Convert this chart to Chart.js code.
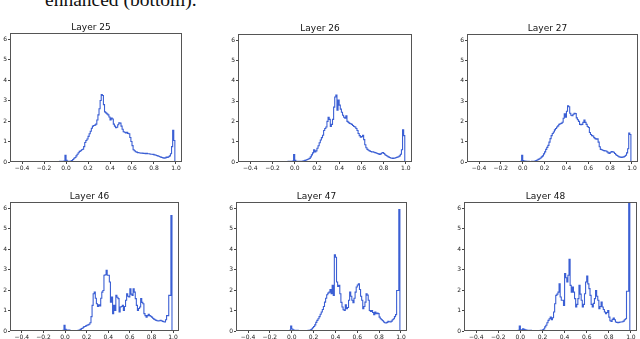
<!DOCTYPE html>
<html>
<head>
<meta charset="utf-8">
<script src="https://cdn.jsdelivr.net/npm/chart.js@4"></script>
<style>
  html, body { margin: 0; padding: 0; background: #fff; }
  body { width: 640px; height: 339px; position: relative; overflow: hidden; }
  .cap { position: absolute; left: 45px; top: -10px; font: 19.5px "Liberation Serif", serif; line-height: 20px; color: #111; white-space: nowrap; }
  .panel { position: absolute; }
</style>
</head>
<body>
<div class="cap">enhanced (bottom).</div>

<script>
// bins are 0.01 wide, first bin starts at -0.08, last ends at 1.00
const binStart = -0.08;
const binWidth = 0.01;

const titles = ["Layer 25", "Layer 26", "Layer 27", "Layer 46", "Layer 47", "Layer 48"];
const xTicks = [-0.4, -0.2, 0.0, 0.2, 0.4, 0.6, 0.8, 1.0];
const yTicks = [0, 1, 2, 3, 4, 5, 6];

const layer25 = [
  0.02, 0.02, 0.02, 0.03, 0.03, 0.03, 0.04, 0.05,
  0.33, 0.08, 0.04, 0.03, 0.04, 0.05, 0.07, 0.12, 0.18, 0.22,
  0.3, 0.38, 0.45, 0.52, 0.55, 0.6, 0.62, 0.75, 0.95, 1.05,
  1.12, 1.25, 1.38, 1.5, 1.65, 1.75, 1.78, 1.8, 1.85, 2.05,
  2.3, 2.6, 3.0, 3.3, 3.25, 2.8, 2.45, 2.4, 2.35, 2.3,
  2.2, 2.05, 2.15, 2.1, 1.85, 1.75, 1.68, 1.7, 1.82, 1.92,
  1.9, 1.75, 1.6, 1.48, 1.45, 1.42, 1.45, 1.4, 1.38, 1.2,
  1.0, 0.8, 0.6, 0.55, 0.5, 0.48, 0.46, 0.45, 0.44, 0.43,
  0.44, 0.42, 0.43, 0.41, 0.42, 0.4, 0.4, 0.39, 0.38, 0.38,
  0.37, 0.35, 0.34, 0.32, 0.3, 0.28, 0.26, 0.24, 0.22, 0.2,
  0.19, 0.2, 0.24, 0.22, 0.26, 0.3, 0.4, 0.75, 1.55, 1.05
];
const layer26 = [
  0.02, 0.02, 0.02, 0.03, 0.03, 0.03, 0.04, 0.05,
  0.37, 0.08, 0.04, 0.03, 0.03, 0.03, 0.04, 0.04, 0.05, 0.06,
  0.08, 0.1, 0.12, 0.15, 0.18, 0.25, 0.35, 0.45, 0.6, 0.5,
  0.55, 0.68, 0.8, 0.95, 1.08, 1.2, 1.32, 1.55, 1.65, 1.72,
  2.0, 2.2, 2.1, 1.75, 1.85, 2.1, 2.7, 3.2, 3.3, 2.55,
  3.05, 2.8, 2.6, 2.45, 2.3, 2.2, 2.15, 2.28, 2.0, 1.95,
  1.9, 1.88, 1.85, 1.8, 1.75, 1.72, 1.65, 1.55, 1.4, 1.3,
  1.22, 1.25, 1.32, 1.1, 0.85, 0.7, 0.62, 0.58, 0.55, 0.52,
  0.5, 0.5, 0.48, 0.46, 0.44, 0.42, 0.4, 0.37, 0.4, 0.44,
  0.46, 0.42, 0.36, 0.32, 0.28, 0.25, 0.22, 0.2, 0.19, 0.18,
  0.19, 0.2, 0.22, 0.24, 0.26, 0.3, 0.38, 0.6, 1.58, 1.3
];
const layer27 = [
  0, 0, 0, 0, 0.01, 0.02, 0.02, 0.03,
  0.33, 0.07, 0.05, 0.05, 0.04, 0.03, 0.03, 0.02, 0.02, 0.03,
  0.03, 0.04, 0.05, 0.07, 0.1, 0.13, 0.16, 0.2, 0.25, 0.3,
  0.4, 0.5, 0.62, 0.72, 0.82, 0.98, 1.15, 1.3, 1.4, 1.48,
  1.58, 1.65, 1.72, 1.78, 1.85, 1.88, 1.9, 1.96, 2.15, 2.37,
  2.2, 2.5, 2.77, 2.72, 2.4, 2.3, 2.28, 2.35, 2.4, 2.38,
  2.17, 2.08, 2.0, 1.85, 1.84, 1.85, 1.95, 2.07, 1.95, 1.85,
  1.75, 1.7, 1.45, 1.35, 1.3, 1.28, 1.2, 1.15, 1.12, 1.14,
  0.98, 0.75, 0.62, 0.6, 0.58, 0.56, 0.55, 0.54, 0.5, 0.45,
  0.42, 0.48, 0.52, 0.5, 0.48, 0.42, 0.36, 0.32, 0.28, 0.25,
  0.24, 0.23, 0.24, 0.25, 0.28, 0.33, 0.45, 0.65, 1.42, 1.35
];
const layer46 = [
  0, 0, 0, 0, 0, 0.02, 0.02, 0.03,
  0.28, 0.08, 0.05, 0.04, 0.05, 0.03, 0.02, 0.01, 0.01, 0.01,
  0.01, 0.02, 0.02, 0.03, 0.05, 0.08, 0.12, 0.15, 0.2, 0.22,
  0.25, 0.28, 0.3, 0.33, 0.4, 0.7, 1.25, 1.82, 1.9, 1.6,
  1.33, 1.2, 1.28, 1.22, 1.6, 1.9, 1.98, 2.72, 2.75, 2.96,
  2.72, 2.72, 2.39, 1.41, 1.66, 0.85, 1.25, 1.0, 1.74, 1.65,
  1.58, 0.93, 1.17, 1.2, 1.25, 1.0, 1.2, 1.5, 1.82, 1.7,
  1.66, 2.06, 1.8, 1.74, 2.06, 1.9, 1.58, 1.25, 1.0, 1.1,
  1.17, 1.58, 1.4, 1.33, 0.85, 0.75, 0.68, 0.75, 0.81, 0.75,
  0.72, 0.68, 0.62, 0.58, 0.55, 0.52, 0.5, 0.49, 0.5, 0.52,
  0.5, 0.47, 0.45, 0.44, 0.55, 0.76, 0.75, 1.74, 1.74, 5.64
];
const layer47 = [
  0, 0, 0, 0, 0, 0.02, 0.02, 0.03,
  0.24, 0.1, 0.06, 0.04, 0.04, 0.03, 0.03, 0.02, 0.02, 0.02,
  0.02, 0.02, 0.02, 0.02, 0.02, 0.02, 0.03, 0.04, 0.06, 0.1,
  0.16, 0.22, 0.3, 0.42, 0.52, 0.6, 0.7, 0.82, 0.93, 1.05,
  1.2, 1.41, 1.6, 1.77, 1.85, 1.9, 2.03, 1.82, 2.23, 1.74,
  3.72, 3.6, 2.39, 2.18, 2.23, 1.82, 1.4, 1.17, 1.04, 1.0,
  1.28, 1.09, 1.15, 1.5, 1.9, 1.7, 1.5, 1.38, 1.6, 1.9,
  2.15, 2.25, 2.31, 2.03, 1.7, 1.5, 1.09, 1.2, 1.41, 1.82,
  1.75, 1.5, 1.0, 0.96, 1.0, 0.9, 0.8, 0.93, 0.85, 0.88,
  0.85, 0.68, 0.6, 0.55, 0.5, 0.44, 0.4, 0.39, 0.42, 0.47,
  0.45, 0.44, 0.48, 0.55, 0.6, 0.7, 0.8, 1.98, 1.98, 5.93
];
const layer48 = [
  0, 0, 0, 0, 0, 0.01, 0.02, 0.03,
  0.24, 0.06, 0.05, 0.11, 0.08, 0.06, 0.05, 0.04, 0.03, 0.03,
  0.03, 0.02, 0.02, 0.02, 0.02, 0.02, 0.02, 0.02, 0.02, 0.03,
  0.04, 0.06, 0.1, 0.2, 0.28, 0.4, 0.52, 0.6, 0.68, 0.55,
  0.65, 0.93, 1.33, 1.74, 1.8, 1.9, 2.31, 1.66, 1.5, 1.5,
  1.25, 2.8, 2.6, 2.39, 2.72, 3.5, 2.23, 1.9, 2.15, 1.9,
  1.58, 1.17, 1.3, 1.58, 2.23, 1.8, 1.5, 1.17, 1.3, 1.82,
  2.39, 2.68, 2.3, 2.07, 1.74, 1.3, 1.17, 1.35, 1.58, 1.98,
  1.7, 1.5, 1.09, 1.2, 1.41, 1.17, 1.05, 0.93, 0.85, 0.9,
  1.0, 0.68, 0.5, 0.47, 0.57, 0.63, 0.55, 0.44, 0.42, 0.41,
  0.42, 0.44, 0.44, 0.45, 0.48, 0.55, 0.6, 1.94, 1.94, 7.2
];
const series = [layer25, layer26, layer27, layer46, layer47, layer48];

// plot frames (left, top, right, bottom) in page pixels
const frames = [
  [10, 33, 182, 162], [238, 34, 412, 162], [467, 34, 638, 162],
  [10, 202, 179, 331], [236, 202, 407, 331], [464, 202, 637, 331]
];

const TITLE_H = 10, YAX_W = 10, XAX_H = 12, PAD_R = 6;

const boxPlugin = {
  id: "box",
  afterDraw(chart) {
    const a = chart.chartArea, ctx = chart.ctx;
    ctx.save();
    ctx.strokeStyle = "#555";
    ctx.lineWidth = 1;
    ctx.strokeRect(Math.round(a.left) + 0.5, Math.round(a.top) + 0.5,
      Math.round(a.right - a.left) - 1, Math.round(a.bottom - a.top) - 1);
    ctx.restore();
  }
};

const tickFont = { family: "DejaVu Sans", size: 6 };

function histPoints(vals) {
  const pts = [{ x: binStart, y: 0 }];
  vals.forEach((v, i) => pts.push({ x: +(binStart + i * binWidth).toFixed(2), y: v }));
  pts.push({ x: +(binStart + vals.length * binWidth).toFixed(2), y: 0 });
  return pts;
}

series.forEach((vals, k) => {
  const [l, t, r, b] = frames[k];
  const w = (r - l) + YAX_W + PAD_R;
  const h = (b - t) + TITLE_H + XAX_H;
  const div = document.createElement("div");
  div.className = "panel";
  div.style.left = (l - YAX_W) + "px";
  div.style.top = (t - TITLE_H) + "px";
  const cv = document.createElement("canvas");
  cv.width = w; cv.height = h;
  cv.style.width = w + "px"; cv.style.height = h + "px";
  div.appendChild(cv);
  document.body.appendChild(div);

  new Chart(cv.getContext("2d"), {
    type: "line",
    data: {
      datasets: [{
        data: histPoints(vals),
        stepped: "after",
        borderColor: "#3b5fd4",
        borderWidth: 1.1,
        pointRadius: 0,
        fill: false
      }]
    },
    plugins: [boxPlugin],
    options: {
      responsive: false,
      devicePixelRatio: 1,
      animation: false,
      layout: { padding: { top: 0, left: 0, bottom: 0, right: PAD_R } },
      plugins: {
        legend: { display: false },
        tooltip: { enabled: false },
        title: {
          display: true,
          text: titles[k],
          color: "#111",
          font: { family: "DejaVu Sans", size: 9, weight: "normal", lineHeight: 1 },
          padding: { top: 0, bottom: 1 }
        }
      },
      scales: {
        x: {
          type: "linear",
          min: -0.51,
          max: 1.055,
          afterBuildTicks: s => { s.ticks = xTicks.map(v => ({ value: v })); },
          afterFit: s => { s.height = XAX_H; },
          border: { display: false },
          grid: { drawOnChartArea: false, drawTicks: true, tickLength: 2, tickColor: "#444" },
          ticks: {
            font: tickFont, color: "#222", padding: 1, maxRotation: 0, autoSkip: false,
            callback: v => v.toFixed(1).replace("-", "\u2212")
          }
        },
        y: {
          min: 0,
          max: 6.3,
          afterBuildTicks: s => { s.ticks = yTicks.map(v => ({ value: v })); },
          afterFit: s => { s.width = YAX_W; },
          border: { display: false },
          grid: { drawOnChartArea: false, drawTicks: true, tickLength: 2, tickColor: "#444" },
          ticks: { font: tickFont, color: "#222", padding: 1, callback: v => String(v) }
        }
      }
    }
  });
});
</script>
</body>
</html>
